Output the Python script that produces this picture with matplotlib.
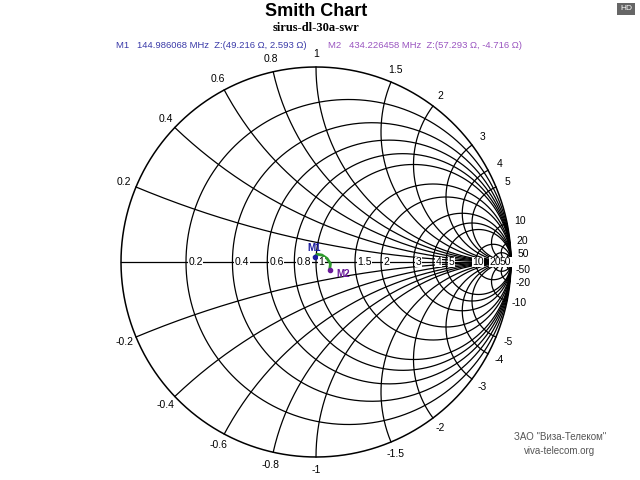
import numpy as np
import matplotlib
matplotlib.use("Agg")
import matplotlib.pyplot as plt

plt.rcParams['font.family'] = ['Liberation Sans', 'DejaVu Sans']

r_vals = [0.2, 0.4, 0.6, 0.8, 1, 1.5, 2, 3, 4, 5, 10, 20, 50]
x_vals = [0.2, 0.4, 0.6, 0.8, 1, 1.5, 2, 3, 4, 5, 10, 20, 50]
r_labels = ["0.2", "0.4", "0.6", "0.8", "1", "1.5", "2", "3", "4", "5", "10", "20", "50"]
Z0 = 50.0
trace_R = [49.216, 50.5, 53.0, 56.0, 58.0, 57.293]
trace_X = [2.593, 4.0, 3.8, 2.0, -1.0, -4.716]
m1 = (49.216, 2.593)
m2 = (57.293, -4.716)

C = (316, 262); RAD = 195
fig = plt.figure(figsize=(6.4, 4.8), dpi=100)
ax = fig.add_axes([0, 0, 1, 1])
ax.set_xlim(-C[0] / RAD, (640 - C[0]) / RAD)
ax.set_ylim(-(480 - C[1]) / RAD, C[1] / RAD)
ax.axis('off')

def gam(z):
    return (z - 1) / (z + 1)

lw = 0.9
t = np.linspace(0, 2 * np.pi, 720)
ax.plot(np.cos(t), np.sin(t), color='black', lw=1.1)
ax.plot([-1, 1], [0, 0], color='black', lw=lw)
for r in r_vals:
    cx = r / (1 + r); rr = 1 / (1 + r)
    ax.plot(cx + rr * np.cos(t), rr * np.sin(t), color='black', lw=lw)
for x in x_vals:
    for s in (1, -1):
        xs = s * x
        rr = np.concatenate([np.linspace(0, 5, 400), np.logspace(np.log10(5), 5, 400)])
        g = gam(rr + 1j * xs)
        ax.plot(g.real, g.imag, color='black', lw=lw)
# real axis labels
for r, lab in zip(r_vals, r_labels):
    g = gam(r)
    ax.text(g + 0.012, 0, lab, fontsize=7.5, ha='left' if r < 10 else 'center', va='center',
            bbox=dict(facecolor='white', edgecolor='none', pad=0.3))
# reactance labels
for x, lab in zip(x_vals, r_labels):
    for s in (1, -1):
        g = gam(1j * s * x)
        p = g * 1.065
        txt = lab if s > 0 else "-" + lab
        ax.text(p.real, p.imag, txt, fontsize=7.5, ha='center', va='center')

z = (np.array(trace_R) + 1j * np.array(trace_X)) / Z0
g = gam(z)
ax.plot(g.real, g.imag, color='#2e9a2e', lw=2)
for (R, X), lab, col, dx, dy in [(m1, 'M1', '#1a1aa0', 0.0, 0.045), (m2, 'M2', '#6a1a9a', 0.07, -0.02)]:
    gm = gam((R + 1j * X) / Z0)
    ax.plot(gm.real, gm.imag, 'o', ms=3, color=col)
    ax.text(gm.real + dx, gm.imag + dy, lab, fontsize=7, fontweight='bold', color=col, ha='center', va='center')

fig.text(316 / 640, 1 - 11 / 480, "Smith Chart", fontsize=13, fontweight='bold', ha='center', va='center')
fig.text(316 / 640, 1 - 28 / 480, "sirus-dl-30a-swr", fontsize=9, fontweight='bold',
         family='Liberation Serif', ha='center', va='center')
fig.text(116 / 640, 1 - 45 / 480, "M1   144.986068 MHz  Z:(49.216 Ω, 2.593 Ω)", fontsize=6.8,
         color='#3a3aa8', ha='left', va='center')
fig.text(328 / 640, 1 - 45 / 480, "M2   434.226458 MHz  Z:(57.293 Ω, -4.716 Ω)", fontsize=6.8,
         color='#9a55c0', ha='left', va='center')
fig.text(626 / 640, 1 - 9 / 480, "HD", fontsize=6, color='white', ha='center', va='center',
         bbox=dict(facecolor='#666666', edgecolor='none', pad=2))
fig.text(560 / 640, 1 - 437 / 480, 'ЗАО "Виза-Телеком"', fontsize=7, color='#555555', ha='center', va='center')
fig.text(560 / 640, 1 - 451 / 480, 'viva-telecom.org', fontsize=7, color='#555555', ha='center', va='center')
fig.savefig("out.png", dpi=100, facecolor='white')
